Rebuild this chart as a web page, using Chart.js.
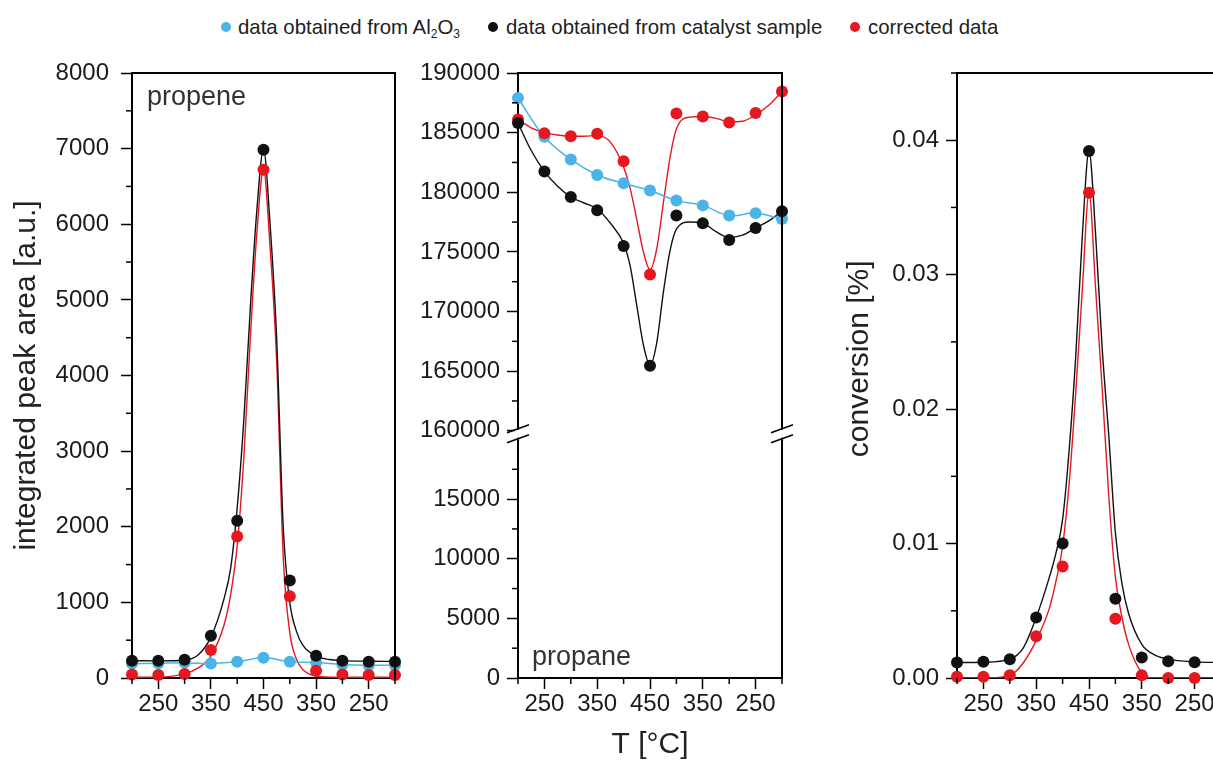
<!DOCTYPE html>
<html>
<head>
<meta charset="utf-8">
<script src="https://cdn.jsdelivr.net/npm/chart.js@4/dist/chart.umd.min.js"></script>
<style>
html, body { margin: 0; padding: 0; background: #fff; overflow: hidden; width: 1213px; height: 767px; }
body { position: relative; font-family: "Liberation Sans", Arial, sans-serif; }
canvas { position: absolute; top: 0; }
#c1 { left: 0; }
#c2 { left: 420px; }
#c3 { left: 800px; }
.lg { position: absolute; top: 15px; font-size: 20.4px; color: #222; white-space: nowrap; line-height: 24px; }
.lg sub { font-size: 12px; vertical-align: -4px; line-height: 0; }
.dot { position: absolute; top: 22px; width: 10px; height: 10px; border-radius: 50%; }
</style>
</head>
<body>
<span class="dot" style="left:221px;background:#4bb4e6"></span>
<span class="lg" style="left:238px">data obtained from Al<sub>2</sub>O<sub>3</sub></span>
<span class="dot" style="left:488px;background:#111"></span>
<span class="lg" style="left:506px">data obtained from catalyst sample</span>
<span class="dot" style="left:850px;background:#e5171f"></span>
<span class="lg" style="left:868px">corrected data</span>

<canvas id="c1" width="420" height="767"></canvas>
<canvas id="c2" width="380" height="767"></canvas>
<canvas id="c3" width="440" height="767"></canvas>

<script>
// measuring points: 200 -> 450 -> 200 °C, plotted by index
const temps = [200, 250, 300, 350, 400, 450, 400, 350, 300, 250, 200];
const pointIdx = [0, 1, 2, 3, 4, 5, 6, 7, 8, 9, 10];
const labelIdx = [1, 3, 5, 7, 9];

// propene (left panel)
const propAl = [190, 195, 200, 193, 215, 268, 215, 205, 180, 170, 170];
const propCat = [228, 228, 240, 558, 2080, 6985, 1290, 294, 228, 215, 215];
const propCorr = [45, 40, 53, 369, 1870, 6720, 1082, 96, 45, 40, 40];

// fitted curves
const fitIdx = [0, 1, 2, 2.5, 3, 3.5, 3.75, 4, 4.25, 4.5, 4.75, 5, 5.25, 5.5, 5.75, 6, 6.25, 6.5, 7, 7.5, 8, 9, 10];
const propCatFit = [228, 226, 238, 300, 540, 1050, 1450, 2250, 3400, 4900, 6200, 6990, 6000, 4500, 2000, 1000, 620, 430, 290, 245, 230, 222, 218];
const propCorrFit = [10, 12, 55, 130, 290, 700, 1100, 1750, 2900, 4500, 5900, 6720, 5700, 4200, 1600, 600, 250, 110, 25, 12, 10, 10, 10];

// propane (middle panel)
const propaneAl = [187900, 184650, 182750, 181450, 180750, 180150, 179300, 178900, 178050, 178250, 177750];
const propaneCat = [185800, 181750, 179600, 178500, 175500, 165450, 178050, 177400, 176000, 177000, 178400];
const propaneCorr = [186100, 184950, 184700, 184900, 182600, 173100, 186600, 186350, 185850, 186650, 188450];

const midFitIdx = [0, 0.5, 1, 1.5, 2, 2.5, 3, 3.5, 4, 4.25, 4.5, 4.75, 5, 5.25, 5.5, 5.75, 6, 6.5, 7, 7.5, 8, 8.5, 9, 9.5, 10];
const propaneCatFit = [185800, 183500, 181750, 180500, 179600, 179100, 178600, 177400, 175700, 173800, 170500, 167200, 165500, 167300, 171500, 175000, 176900, 177500, 177400, 176700, 176200, 176400, 177000, 177600, 178400];
const propaneCorrFit = [186100, 185400, 185000, 184800, 184700, 184700, 184750, 184200, 182100, 180300, 177700, 175000, 173500, 175200, 179000, 182800, 185300, 186300, 186350, 186200, 185900, 185950, 186500, 187300, 188450];

// conversion (right panel)
const convCat = [0.00115, 0.0012, 0.0014, 0.0045, 0.0100, 0.0392, 0.0059, 0.00152, 0.00124, 0.00117, 0.00115];
const convCorr = [0.0001, 0.0001, 0.0002, 0.0031, 0.0083, 0.0361, 0.0044, 0.0002, 0.0, 0.0, 0.0];
const convCatFit = [0.00115, 0.00117, 0.0014, 0.0022, 0.0045, 0.0075, 0.0093, 0.0118, 0.0170, 0.0240, 0.0330, 0.0392, 0.0330, 0.0245, 0.0180, 0.0108, 0.0070, 0.0048, 0.0025, 0.0017, 0.0014, 0.0012, 0.00115];
const convCorrFit = [0.0, 0.0, 0.0002, 0.0011, 0.0028, 0.0052, 0.0072, 0.0098, 0.0145, 0.0213, 0.0290, 0.0361, 0.0290, 0.0215, 0.0135, 0.0075, 0.0045, 0.0025, 0.0004, 0.0, 0.0, 0.0, 0.0];

// axis ticks
const propTicks = [0, 1000, 2000, 3000, 4000, 5000, 6000, 7000, 8000];
const propMinor = [500, 1500, 2500, 3500, 4500, 5500, 6500, 7500];
const propaneTopTicks = [160000, 165000, 170000, 175000, 180000, 185000, 190000];
const propaneTopMinor = [162500, 167500, 172500, 177500, 182500, 187500];
const propaneBotTicks = [0, 5000, 10000, 15000];
const propaneBotMinor = [2500, 7500, 12500, 17500];
const convTicks = [0, 0.01, 0.02, 0.03, 0.04];
const convMinor = [0.005, 0.015, 0.025, 0.035, 0.045];
const xMinor = [0, 2, 4, 6, 8, 10];

const BLUE = '#4bb4e6', BLACK = '#111111', RED = '#e5171f';
Chart.defaults.font.family = '"Liberation Sans", Arial, sans-serif';
Chart.defaults.color = '#1a1a1a';

const pts = (xs, ys) => xs.map((x, i) => ({ x: x, y: ys[i] }));

function dots(data, color, line) {
  return {
    data: data, backgroundColor: color, borderColor: color,
    pointRadius: 6, pointHoverRadius: 6, pointBorderWidth: 0,
    showLine: !!line, borderWidth: 1.5, tension: 0.4, clip: false, order: 0
  };
}
function curve(data, color) {
  return {
    data: data, borderColor: color, backgroundColor: color, showLine: true,
    pointRadius: 0, borderWidth: 1.4, cubicInterpolationMode: 'monotone', order: 1
  };
}

const framePlugin = {
  id: 'frame',
  afterDatasetsDraw(chart, args, opts) {
    const ctx = chart.ctx, a = chart.chartArea;
    ctx.save();
    ctx.strokeStyle = '#000';
    ctx.lineWidth = 2;
    ctx.beginPath();
    ctx.moveTo(a.left, a.top);
    ctx.lineTo(a.right, a.top);
    ctx.lineTo(a.right, a.bottom);
    ctx.stroke();
    // minor ticks
    ctx.lineWidth = 1.5;
    for (const id in (opts.minor || {})) {
      const s = chart.scales[id];
      for (const v of opts.minor[id]) {
        const p = s.getPixelForValue(v);
        ctx.beginPath();
        if (s.isHorizontal()) { ctx.moveTo(p, s.top); ctx.lineTo(p, s.top + 6); }
        else { ctx.moveTo(s.right, p); ctx.lineTo(s.right - 6, p); }
        ctx.stroke();
      }
    }
    // axis break
    if (opts.breakAt) {
      const y = chart.scales[opts.breakAt].top;
      for (const x of [a.left, a.right]) {
        ctx.fillStyle = '#fff';
        ctx.fillRect(x - 3, y - 4, 6, 8);
        ctx.strokeStyle = '#000';
        ctx.lineWidth = 1.6;
        for (const yy of [y - 5, y + 5]) {
          ctx.beginPath();
          ctx.moveTo(x - 11, yy + 4);
          ctx.lineTo(x + 11, yy - 4);
          ctx.stroke();
        }
      }
    }
    // panel label
    if (opts.label) {
      ctx.fillStyle = '#333';
      ctx.font = '27px "Liberation Sans", Arial, sans-serif';
      ctx.textBaseline = 'alphabetic';
      const ly = opts.label.fromBottom ? a.bottom - opts.label.dy : a.top + opts.label.dy;
      ctx.fillText(opts.label.text, a.left + opts.label.dx, ly);
    }
    ctx.restore();
  }
};

function xAxis(title) {
  return {
    type: 'linear', min: 0, max: 10,
    afterBuildTicks: s => { s.ticks = labelIdx.map(v => ({ value: v })); },
    afterFit: s => { s.height = 89; },
    border: { color: '#000', width: 2 },
    grid: { drawOnChartArea: false, drawTicks: true, tickLength: 11, tickWidth: 1.5, tickColor: '#000' },
    ticks: { callback: v => String(temps[v]), font: { size: 24 }, color: '#1a1a1a', autoSkip: false, maxRotation: 0, padding: 1 },
    title: { display: !!title, text: title || '', font: { size: 30 }, color: '#222', padding: { top: 0, bottom: 4 } }
  };
}
function yAxis(min, max, ticks, width, fmt, pad, extra) {
  return Object.assign({
    type: 'linear', min: min, max: max,
    afterBuildTicks: s => { s.ticks = ticks.map(v => ({ value: v })); },
    afterFit: s => { s.width = width; },
    border: { color: '#000', width: 2 },
    grid: { drawOnChartArea: false, drawTicks: true, tickLength: 11, tickWidth: 1.5, tickColor: '#000' },
    ticks: { callback: fmt, font: { size: 24 }, color: '#1a1a1a', padding: pad }
  }, extra || {});
}

// left: propene
new Chart(document.getElementById('c1'), {
  type: 'scatter',
  data: {
    datasets: [
      dots(pts(pointIdx, propCat), BLACK),
      dots(pts(pointIdx, propCorr), RED),
      dots(pts(pointIdx, propAl), BLUE, true),
      curve(pts(fitIdx, propCatFit), BLACK),
      curve(pts(fitIdx, propCorrFit), RED)
    ]
  },
  plugins: [framePlugin],
  options: {
    responsive: false, animation: false,
    layout: { padding: { top: 73, right: 25, left: 0, bottom: 0 } },
    plugins: {
      legend: { display: false }, tooltip: { enabled: false },
      frame: { minor: { x: xMinor, y: propMinor }, label: { text: 'propene', dx: 15, dy: 32 } }
    },
    scales: {
      x: xAxis(),
      y: yAxis(0, 8000, propTicks, 132, v => String(v), 12, {
        title: { display: true, text: 'integrated peak area [a.u.]', font: { size: 30 }, color: '#222', padding: { top: 9, bottom: 0 } }
      })
    }
  }
});

// middle: propane, broken y axis
new Chart(document.getElementById('c2'), {
  type: 'scatter',
  data: {
    datasets: [
      Object.assign(dots(pts(pointIdx, propaneCat), BLACK), { yAxisID: 'yTop' }),
      Object.assign(dots(pts(pointIdx, propaneCorr), RED), { yAxisID: 'yTop' }),
      Object.assign(dots(pts(pointIdx, propaneAl), BLUE, true), { yAxisID: 'yTop' }),
      Object.assign(curve(pts(midFitIdx, propaneCatFit), BLACK), { yAxisID: 'yTop' }),
      Object.assign(curve(pts(midFitIdx, propaneCorrFit), RED), { yAxisID: 'yTop' })
    ]
  },
  plugins: [framePlugin],
  options: {
    responsive: false, animation: false,
    layout: { padding: { top: 73, right: 18, left: 0, bottom: 0 } },
    plugins: {
      legend: { display: false }, tooltip: { enabled: false },
      frame: {
        minor: { x: xMinor, yTop: propaneTopMinor, yBot: propaneBotMinor },
        breakAt: 'yBot',
        label: { text: 'propane', dx: 14, dy: 13, fromBottom: true }
      }
    },
    scales: {
      x: xAxis('T [°C]'),
      yTop: yAxis(159750, 190000, propaneTopTicks, 98, v => String(v), 7, { position: 'left', stack: 'mid', stackWeight: 30250, weight: 1 }),
      yBot: yAxis(0, 20480, propaneBotTicks, 98, v => String(v), 7, { position: 'left', stack: 'mid', stackWeight: 20480, weight: 0 })
    }
  }
});

// right: conversion
new Chart(document.getElementById('c3'), {
  type: 'scatter',
  data: {
    datasets: [
      dots(pts(pointIdx, convCat), BLACK),
      dots(pts(pointIdx, convCorr), RED),
      curve(pts(fitIdx, convCatFit), BLACK),
      curve(pts(fitIdx, convCorrFit), RED)
    ]
  },
  plugins: [framePlugin],
  options: {
    responsive: false, animation: false,
    layout: { padding: { top: 73, right: 19, left: 0, bottom: 0 } },
    plugins: {
      legend: { display: false }, tooltip: { enabled: false },
      frame: { minor: { x: xMinor, y: convMinor } }
    },
    scales: {
      x: xAxis(),
      y: yAxis(0, 0.045, convTicks, 157, v => v.toFixed(2), 7, {
        title: { display: true, text: '    conversion [%]', font: { size: 30 }, color: '#222', padding: { top: 42, bottom: 0 } }
      })
    }
  }
});
</script>
</body>
</html>
